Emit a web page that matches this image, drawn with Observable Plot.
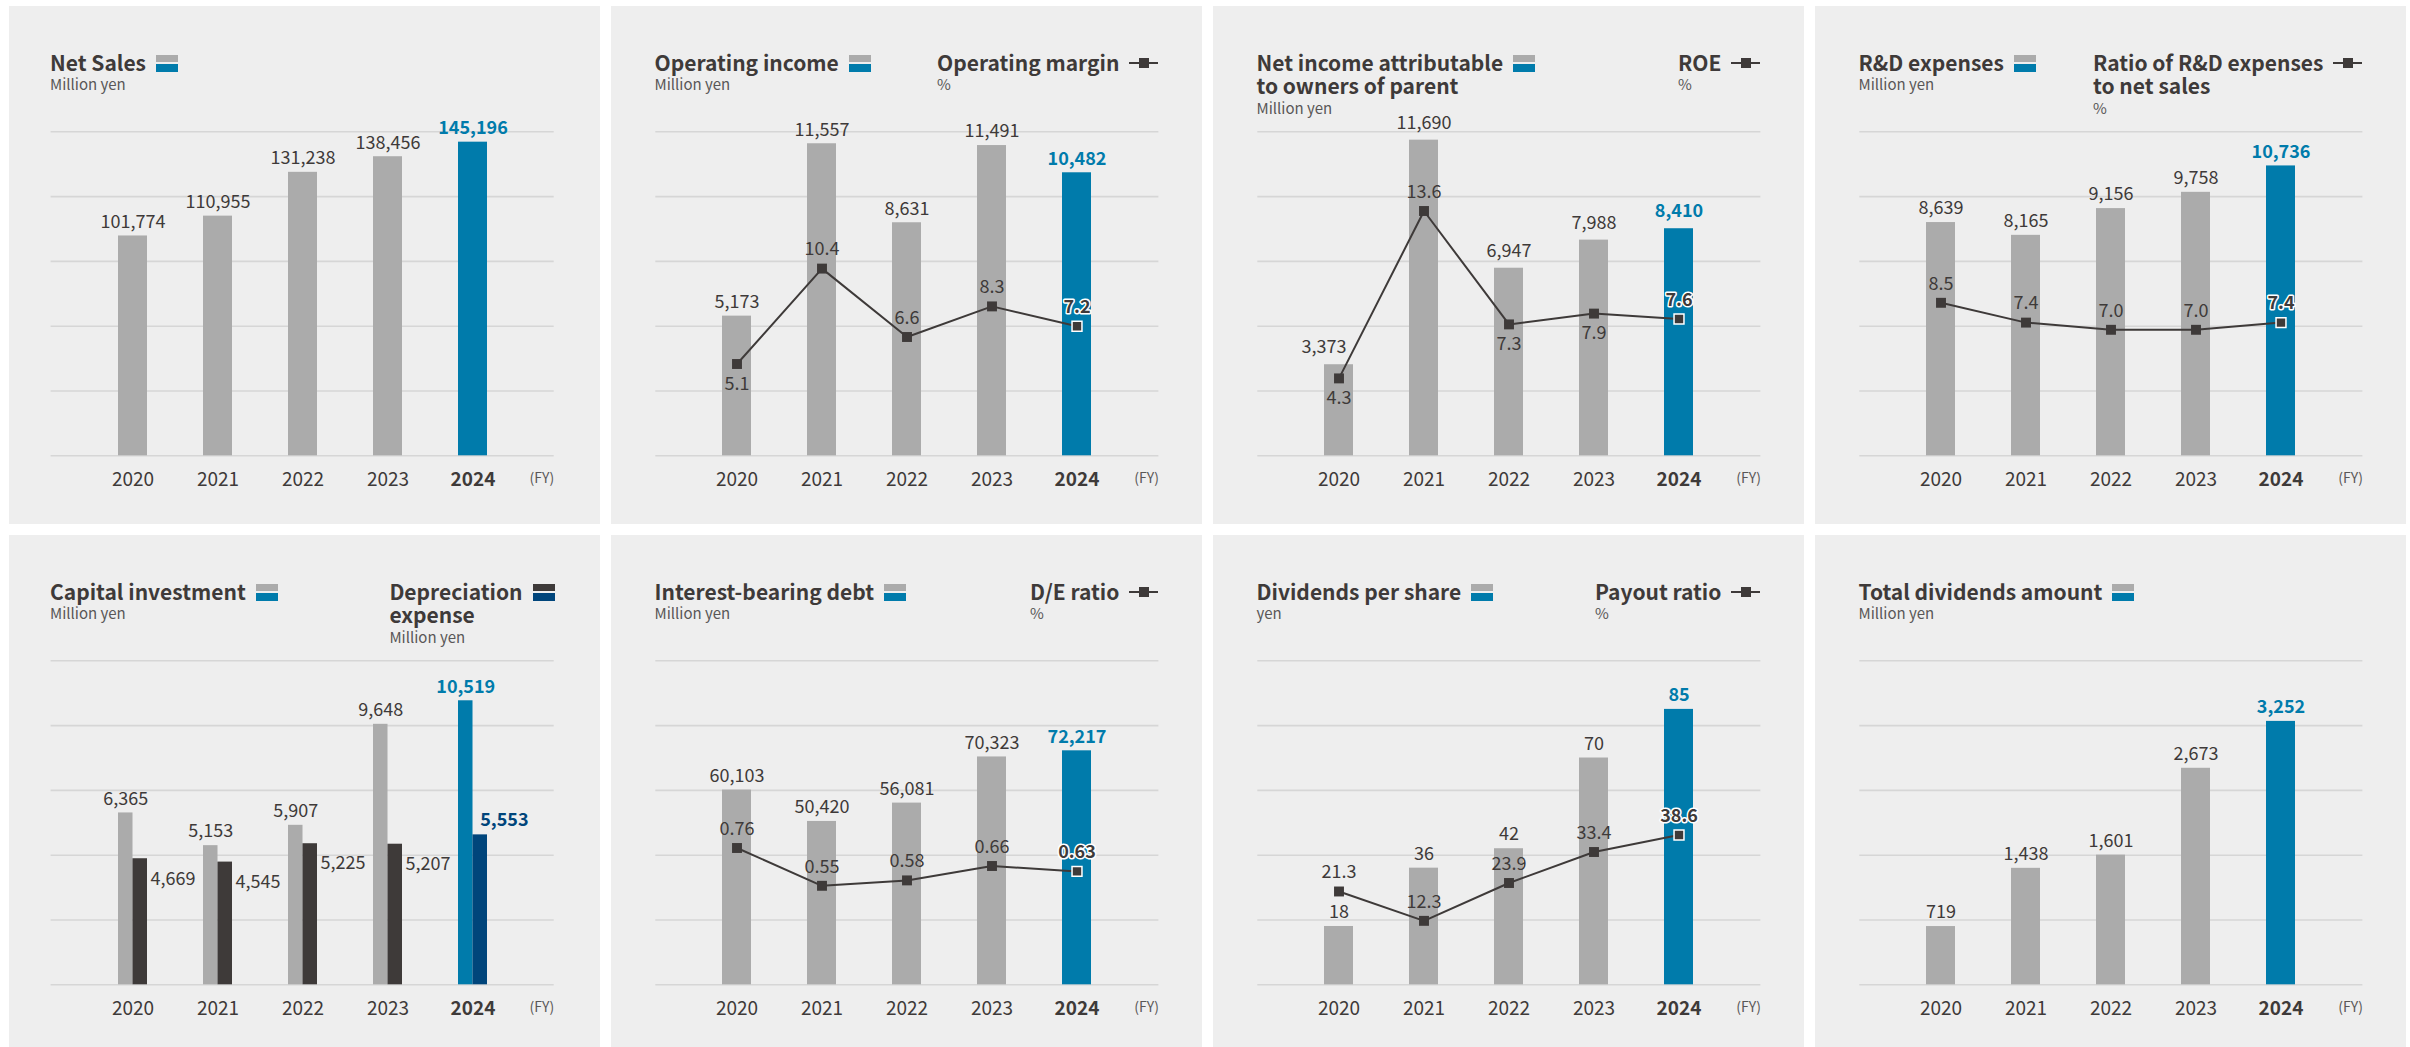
<!DOCTYPE html>
<html><head><meta charset="utf-8">
<script src="https://cdn.jsdelivr.net/npm/d3@7"></script>
<script src="https://cdn.jsdelivr.net/npm/@observablehq/plot@0.6"></script>
<style>
html,body{margin:0;padding:0;background:#fff;}
body{width:2410px;height:1047px;overflow:hidden;position:relative;font-family:"Noto Sans CJK JP","Noto Sans",sans-serif;color:#3e3a39;}
.panel{position:absolute;width:591px;height:518px;background:#eeeeee;overflow:hidden;}
.panel svg{position:absolute;left:0;top:0;}
.tg{position:absolute;top:44.6px;display:flex;align-items:flex-start;}
.tt{font-weight:700;font-size:21px;line-height:23.5px;white-space:nowrap;color:#3e3a39;}
.tu{font-size:15px;line-height:19px;color:#595757;white-space:nowrap;}
.sw{width:22px;height:17px;margin-left:10px;margin-top:4px;display:flex;flex-direction:column;flex:none;}
.sw .a{height:7px;}
.sw .b{height:8px;margin-top:2px;}
.li{position:relative;width:29px;height:23.5px;margin-left:10px;flex:none;}
.li .l{position:absolute;left:0;right:0;top:11.2px;height:2px;background:#3e3a39;}
.li .s{position:absolute;left:9.5px;top:7.2px;width:10px;height:10px;background:#3e3a39;}
</style>
</head><body>
<script>
// ---------------- data ----------------
const years = ["2020", "2021", "2022", "2023", "2024"];
const netSales = [101774, 110955, 131238, 138456, 145196];
const operatingIncome = [5173, 11557, 8631, 11491, 10482];
const operatingMargin = [5.1, 10.4, 6.6, 8.3, 7.2];
const netIncome = [3373, 11690, 6947, 7988, 8410];
const roe = [4.3, 13.6, 7.3, 7.9, 7.6];
const rdExpenses = [8639, 8165, 9156, 9758, 10736];
const rdRatio = [8.5, 7.4, 7.0, 7.0, 7.4];
const capitalInvestment = [6365, 5153, 5907, 9648, 10519];
const depreciation = [4669, 4545, 5225, 5207, 5553];
const interestBearingDebt = [60103, 50420, 56081, 70323, 72217];
const deRatio = [0.76, 0.55, 0.58, 0.66, 0.63];
const dividendsPerShare = [18, 36, 42, 70, 85];
const payoutRatio = [21.3, 12.3, 23.9, 33.4, 38.6];
const totalDividends = [719, 1438, 1601, 2673, 3252];

// ---------------- style ----------------
const GRAY = "#ababab", BLUE = "#007bab", DARK = "#3e3a39", NAVY = "#00457b", GRID = "#d6d6d6";
const FONT = "'Noto Sans CJK JP', 'Noto Sans', sans-serif";
const W = 591, H = 518, MT = 125.3, MB = 68.7;
const colLeft = [9, 611, 1213, 1815], rowTop = [6, 535];
const colInset = [
  {ml: 41.6, mr: 46.3, tl: 41, tr: 45.5},
  {ml: 44.3, mr: 43.6, tl: 43.5, tr: 43.6},
  {ml: 44.3, mr: 43.6, tl: 43.5, tr: 43.6},
  {ml: 44.3, mr: 43.6, tl: 43.5, tr: 43.6}
];
const PI_ = 0.661, PO_ = 0.7725;
const LAST = years[years.length - 1];
const comma = d3.format(",");

const panels = [
  {row: 0, col: 0, bars: netSales, max: 150000,
   left: {lines: ["Net Sales"], unit: "Million yen", sw: [GRAY, BLUE]}},
  {row: 0, col: 1, bars: operatingIncome, max: 12000, line: operatingMargin, lineDomain: [0, 18], lfmt: ".1f", below: [0],
   left: {lines: ["Operating income"], unit: "Million yen", sw: [GRAY, BLUE]},
   right: {lines: ["Operating margin"], unit: "%", sw: "line"}},
  {row: 0, col: 2, bars: netIncome, max: 12000, line: roe, lineDomain: [0, 18], lfmt: ".1f", below: [0, 2, 3], barDy: -17, shiftFirst: -15,
   left: {lines: ["Net income attributable", "to owners of parent"], unit: "Million yen", sw: [GRAY, BLUE]},
   right: {lines: ["ROE"], unit: "%", sw: "line"}},
  {row: 0, col: 3, bars: rdExpenses, max: 12000, line: rdRatio, lineDomain: [0, 18], lfmt: ".1f", below: [],
   left: {lines: ["R&D expenses"], unit: "Million yen", sw: [GRAY, BLUE]},
   right: {lines: ["Ratio of R&D expenses", "to net sales"], unit: "%", sw: "line"}},
  {row: 1, col: 0, bars: capitalInvestment, bars2: depreciation, max: 12000,
   left: {lines: ["Capital investment"], unit: "Million yen", sw: [GRAY, BLUE]},
   right: {lines: ["Depreciation", "expense"], unit: "Million yen", sw: [DARK, NAVY]}},
  {row: 1, col: 1, bars: interestBearingDebt, max: 100000, line: deRatio, lineDomain: [0, 1.8], lfmt: ".2f", below: [],
   left: {lines: ["Interest-bearing debt"], unit: "Million yen", sw: [GRAY, BLUE]},
   right: {lines: ["D/E ratio"], unit: "%", sw: "line"}},
  {row: 1, col: 2, bars: dividendsPerShare, max: 100, line: payoutRatio, lineDomain: [-7.3, 92], lfmt: ".1f", below: [],
   left: {lines: ["Dividends per share"], unit: "yen", sw: [GRAY, BLUE]},
   right: {lines: ["Payout ratio"], unit: "%", sw: "line"}},
  {row: 1, col: 3, bars: totalDividends, max: 4000,
   left: {lines: ["Total dividends amount"], unit: "Million yen", sw: [GRAY, BLUE]}}
];

function titleGroup(t, side, ins) {
  const g = document.createElement("div");
  g.className = "tg";
  if (side === "left") g.style.left = ins.tl + "px"; else g.style.right = ins.tr + "px";
  const txt = document.createElement("div");
  t.lines.forEach(s => { const d = document.createElement("div"); d.className = "tt"; d.textContent = s; txt.appendChild(d); });
  const u = document.createElement("div"); u.className = "tu"; u.textContent = t.unit; txt.appendChild(u);
  g.appendChild(txt);
  if (t.sw === "line") {
    const li = document.createElement("div"); li.className = "li";
    li.innerHTML = '<div class="l"></div><div class="s"></div>';
    g.appendChild(li);
  } else {
    const sw = document.createElement("div"); sw.className = "sw";
    sw.innerHTML = `<div class="a" style="background:${t.sw[0]}"></div><div class="b" style="background:${t.sw[1]}"></div>`;
    g.appendChild(sw);
  }
  return g;
}

function commonX() {
  return {type: "band", domain: years, paddingInner: PI_, paddingOuter: PO_, axis: null};
}

panels.forEach((p, k) => {
  const ins = colInset[p.col];
  const div = document.createElement("div");
  div.className = "panel";
  div.style.left = colLeft[p.col] + "px";
  div.style.top = rowTop[p.row] + "px";
  document.body.appendChild(div);

  const data = years.map((y, i) => ({year: y, value: p.bars[i], i}));
  const bw = d3.scaleBand().domain(years).range([ins.ml, W - ins.mr]).paddingInner(PI_).paddingOuter(PO_).bandwidth();
  const ticks = d3.range(6).map(j => j * p.max / 5);
  const barDy = p.barDy ?? -14;
  const marks = [
    Plot.gridY(ticks, {stroke: GRID, strokeOpacity: 1, strokeWidth: 1.6})
  ];
  const txt = {fontSize: 18, lineAnchor: "middle"};
  if (p.bars2) {
    const data2 = years.map((y, i) => ({year: y, value: p.bars2[i], i}));
    marks.push(
      Plot.barY(data, {filter: d => d.year !== LAST, x: "year", y: "value", fill: GRAY, insetRight: bw / 2}),
      Plot.barY(data, {filter: d => d.year === LAST, x: "year", y: "value", fill: BLUE, insetRight: bw / 2}),
      Plot.barY(data2, {filter: d => d.year !== LAST, x: "year", y: "value", fill: DARK, insetLeft: bw / 2}),
      Plot.barY(data2, {filter: d => d.year === LAST, x: "year", y: "value", fill: NAVY, insetLeft: bw / 2}),
      Plot.text(data, {...txt, filter: d => d.year !== LAST, x: "year", y: "value", text: d => comma(d.value), dx: -bw / 4, dy: barDy, fill: DARK}),
      Plot.text(data, {...txt, filter: d => d.year === LAST, x: "year", y: "value", text: d => comma(d.value), dx: -bw / 4, dy: barDy, fill: BLUE, fontWeight: "bold"}),
      Plot.text(data2, {...txt, filter: d => d.year !== LAST, x: "year", y: "value", text: d => comma(d.value), dx: bw / 2 + 3, dy: 20, textAnchor: "start", fill: DARK}),
      Plot.text(data2, {...txt, filter: d => d.year === LAST, x: "year", y: "value", text: d => comma(d.value), dx: bw / 4, dy: -15, textAnchor: "start", fill: NAVY, fontWeight: "bold"})
    );
  } else {
    marks.push(
      Plot.barY(data, {filter: d => d.year !== LAST, x: "year", y: "value", fill: GRAY}),
      Plot.barY(data, {filter: d => d.year === LAST, x: "year", y: "value", fill: BLUE}),
      Plot.text(data, {...txt, filter: d => d.year !== LAST, x: "year", y: "value", text: d => comma(d.value), dy: barDy,
        dx: p.shiftFirst ? 0 : 0, fill: DARK}),
      Plot.text(data, {...txt, filter: d => d.year === LAST, x: "year", y: "value", text: d => comma(d.value), dy: barDy, fill: BLUE, fontWeight: "bold"})
    );
  }
  marks.push(
    Plot.text(years, {filter: d => d !== LAST, x: d => d, frameAnchor: "bottom", dy: 24, lineAnchor: "middle", fontSize: 19, fill: DARK}),
    Plot.text(years, {filter: d => d === LAST, x: d => d, frameAnchor: "bottom", dy: 24, lineAnchor: "middle", fontSize: 19, fill: DARK, fontWeight: "bold"}),
    Plot.text(["(FY)"], {frameAnchor: "bottom-right", dy: 23, lineAnchor: "middle", textAnchor: "end", fontSize: 14, fill: "#595757"})
  );
  const svg = Plot.plot({
    width: W, height: H, marginLeft: ins.ml, marginRight: ins.mr, marginTop: MT, marginBottom: MB,
    style: {background: "transparent", fontFamily: FONT, overflow: "visible"},
    x: commonX(),
    y: {domain: [0, p.max], axis: null},
    marks
  });
  // shift the first bar label where the reference nudges it (kept in code, not data)
  if (p.shiftFirst) {
    const g = d3.select(svg).selectAll("g[aria-label='text']").filter((_, j) => j === 0);
    g.selectAll("text").filter((_, j) => j === 0).attr("transform", function() {
      const t = this.getAttribute("transform") || ""; return t + ` translate(${p.shiftFirst},0)`;
    });
  }
  div.appendChild(svg);

  if (p.line) {
    const ld = years.map((y, i) => ({year: y, value: p.line[i], i}));
    const f = d3.format(p.lfmt);
    const isBelow = d => p.below.includes(d.i);
    const lsvg = Plot.plot({
      width: W, height: H, marginLeft: ins.ml, marginRight: ins.mr, marginTop: MT, marginBottom: MB,
      style: {background: "transparent", fontFamily: FONT, overflow: "visible"},
      x: commonX(),
      y: {domain: p.lineDomain, axis: null},
      marks: [
        Plot.lineY(ld, {x: "year", y: "value", stroke: DARK, strokeWidth: 2}),
        Plot.dot(ld, {filter: d => d.year !== LAST, x: "year", y: "value", symbol: "square", r: 5.6, fill: DARK, stroke: "none"}),
        Plot.dot(ld, {filter: d => d.year === LAST, x: "year", y: "value", symbol: "square", r: 5.6, fill: DARK, stroke: "#ffffff", strokeWidth: 1.5}),
        Plot.text(ld, {...txt, filter: d => d.year !== LAST && !isBelow(d), x: "year", y: "value", text: d => f(d.value), dy: -19, fill: DARK}),
        Plot.text(ld, {...txt, filter: d => d.year !== LAST && isBelow(d), x: "year", y: "value", text: d => f(d.value), dy: 20, fill: DARK}),
        Plot.text(ld, {...txt, filter: d => d.year === LAST, x: "year", y: "value", text: d => f(d.value), dy: isBelow({i: 4}) ? 20 : -19,
          fill: DARK, stroke: "#ffffff", strokeWidth: 3, paintOrder: "stroke", fontWeight: "bold"})
      ]
    });
    div.appendChild(lsvg);
  }

  div.appendChild(titleGroup(p.left, "left", ins));
  if (p.right) div.appendChild(titleGroup(p.right, "right", ins));
});
</script>
</body></html>
